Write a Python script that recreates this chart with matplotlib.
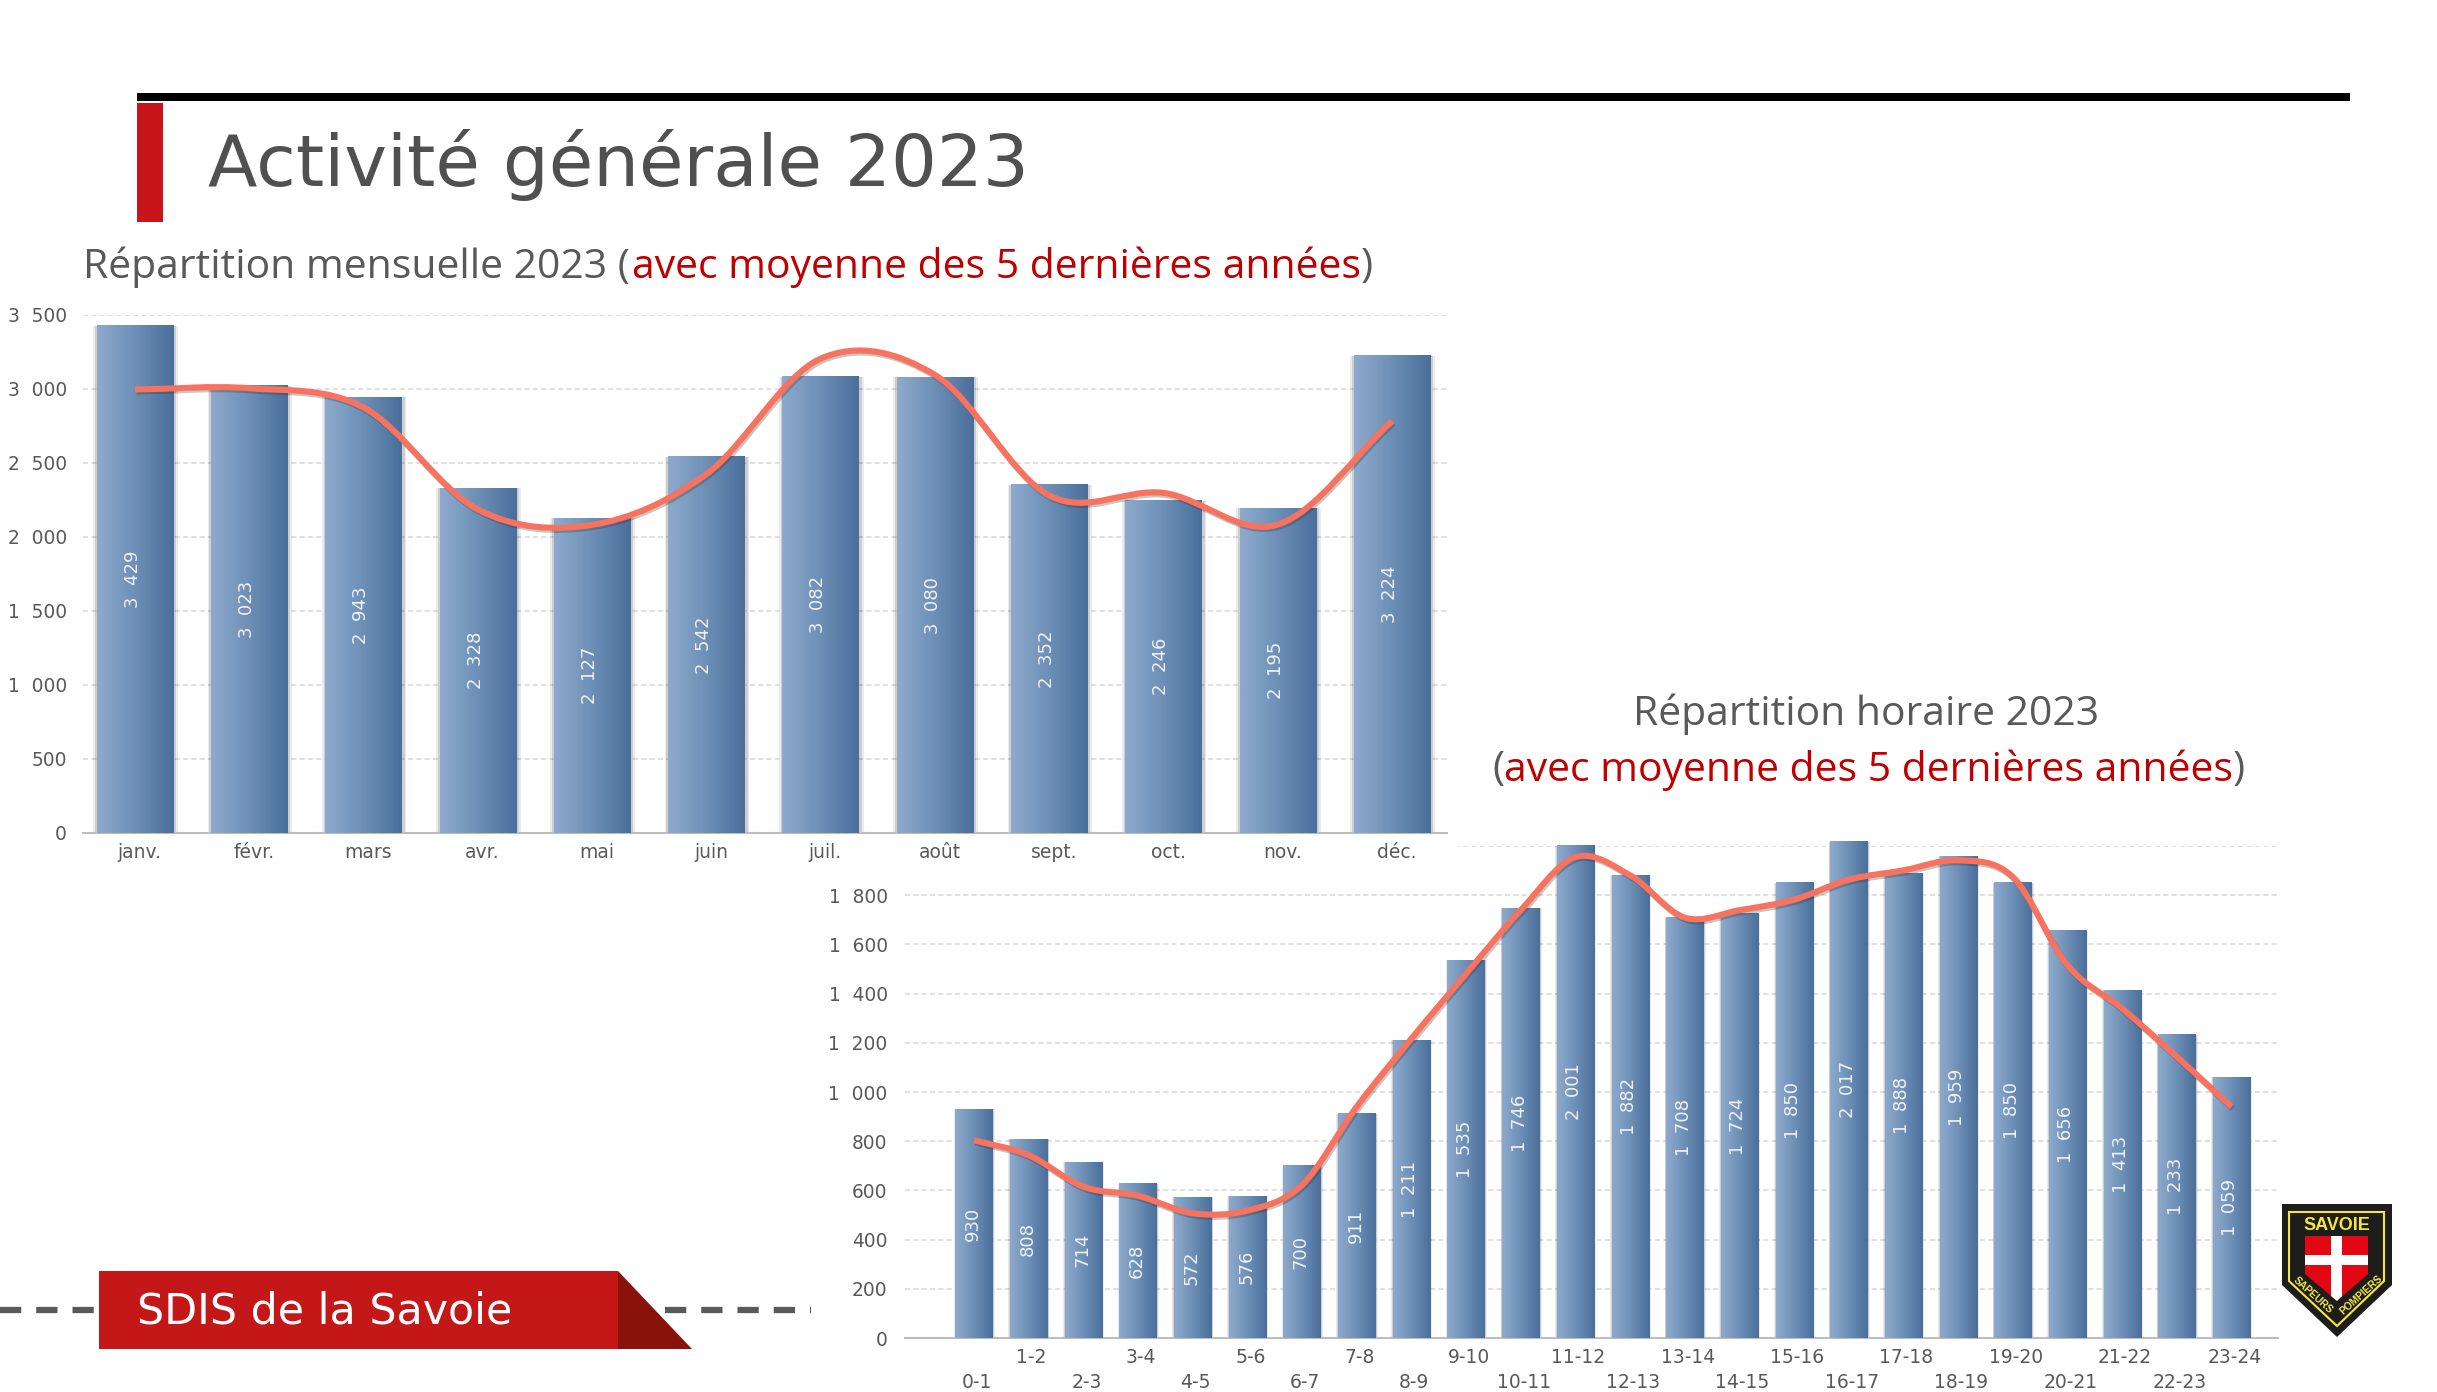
import numpy as np
import matplotlib
matplotlib.use("Agg")
import matplotlib.pyplot as plt
import matplotlib.patheffects as pe
from matplotlib.path import Path
from matplotlib.patches import PathPatch, Polygon, Rectangle
from matplotlib.colors import LinearSegmentedColormap
from matplotlib.transforms import ScaledTranslation

W, H = 2437, 1392

months = ["janv.", "févr.", "mars", "avr.", "mai", "juin", "juil.", "août", "sept.", "oct.", "nov.", "déc."]
month_values = [3429, 3023, 2943, 2328, 2127, 2542, 3082, 3080, 2352, 2246, 2195, 3224]
month_mean = [2997, 3005, 2875, 2186, 2082, 2425, 3205, 3095, 2280, 2298, 2084, 2783]
month_ticks = [0, 500, 1000, 1500, 2000, 2500, 3000, 3500]

hours = ["0-1", "1-2", "2-3", "3-4", "4-5", "5-6", "6-7", "7-8", "8-9", "9-10", "10-11", "11-12",
         "12-13", "13-14", "14-15", "15-16", "16-17", "17-18", "18-19", "19-20", "20-21", "21-22", "22-23", "23-24"]
hour_values = [930, 808, 714, 628, 572, 576, 700, 911, 1211, 1535, 1746, 2001,
               1882, 1708, 1724, 1850, 2017, 1888, 1959, 1850, 1656, 1413, 1233, 1059]
hour_mean = [804, 743, 615, 578, 507, 518, 622, 940, 1217, 1481, 1739, 1955,
             1881, 1709, 1739, 1782, 1863, 1901, 1942, 1874, 1515, 1339, 1143, 940]
hour_ticks = [0, 200, 400, 600, 800, 1000, 1200, 1400, 1600, 1800, 2000]

CHART_FONT = "DejaVu Sans"
SUB_FONT = "Open Sans"
GREY = "#595959"
RED = "#C00000"
bar_cmap = LinearSegmentedColormap.from_list("bar", ["#8DAACC", "#6D8FB6", "#4A6F9B"])
grad = np.linspace(0, 1, 64).reshape(1, -1)


def fmt(v):
    return f"{v:,}".replace(",", "  ")


def smooth_line(ax, ys):
    # catmull-rom through the values, like the smoothed line in the slide
    n = len(ys)
    verts = [(0, ys[0])]
    codes = [Path.MOVETO]
    for i in range(n - 1):
        m0 = (ys[i + 1] - ys[max(i - 1, 0)]) / (1 if i == 0 else 2)
        m1 = (ys[min(i + 2, n - 1)] - ys[i]) / (1 if i == n - 2 else 2)
        verts += [(i + 1 / 3, ys[i] + m0 / 3), (i + 2 / 3, ys[i + 1] - m1 / 3), (i + 1, ys[i + 1])]
        codes += [Path.CURVE4] * 3
    line = PathPatch(Path(verts, codes), fc="none", ec="#F7735F", lw=4.4, capstyle="butt", zorder=6, clip_on=False)
    line.set_path_effects([pe.SimpleLineShadow(offset=(1, -1.5), shadow_color="#222222", alpha=0.25), pe.Normal()])
    ax.add_patch(line)


def make_chart(box, xlim, ymax, cats, vals, mean, yticks, width, xlabels, ylabels, ypad, order, xshift):
    l, t, r, b = box
    ax = fig.add_axes([l / W, 1 - b / H, (r - l) / W, (b - t) / H], zorder=order)
    ax.patch.set_alpha(0)
    x = np.arange(len(cats))
    for xi, v in zip(x, vals):
        ax.add_patch(Rectangle((xi - width / 2 - 0.03, 0), width + 0.07, v, fc="#000000", alpha=0.08, ec="none", zorder=2, clip_on=False))
        ax.add_patch(Rectangle((xi - width / 2 - 0.015, 0), width + 0.04, v, fc="#000000", alpha=0.12, ec="none", zorder=2, clip_on=False))
        ax.imshow(grad, extent=(xi - width / 2, xi + width / 2, 0, v), aspect="auto", cmap=bar_cmap, zorder=3, clip_on=False)
        ax.text(xi - 0.02, v / 2, fmt(v), rotation=90, ha="center", va="center", color="#EEF2F7", fontsize=13, family=CHART_FONT, zorder=4)
    smooth_line(ax, mean)
    ax.set_xlim(*xlim)
    ax.set_ylim(0, ymax)
    ax.set_yticks(yticks)
    ax.set_yticklabels(ylabels, fontsize=13.4, family=CHART_FONT, color=GREY)
    ax.set_xticks(x)
    ax.set_xticklabels(xlabels, fontsize=13.5, family=CHART_FONT, color=GREY, linespacing=1.4)
    ax.tick_params(axis="y", length=0, pad=ypad)
    ax.tick_params(axis="x", length=0, pad=7)
    shift = ScaledTranslation(xshift / 100, 0, fig.dpi_scale_trans)
    for lab in ax.get_xticklabels():
        lab.set_transform(lab.get_transform() + shift)
    ax.yaxis.grid(True, color="#DADADA", ls=(0, (3, 2)), lw=1.2, zorder=1)
    ax.set_axisbelow(True)
    for s in ["top", "right", "left"]:
        ax.spines[s].set_visible(False)
    ax.spines["bottom"].set_color("#BDBDBD")
    ax.spines["bottom"].set_linewidth(1.5)
    return ax


fig = plt.figure(figsize=(W / 100, H / 100), dpi=100, facecolor="white")
bg = fig.add_axes([0, 0, 1, 1], zorder=-1)
bg.set_xlim(0, W)
bg.set_ylim(H, 0)
bg.axis("off")

# slide furniture
bg.add_patch(Rectangle((137, 93), 2213, 8, fc="black", ec="none"))
bg.add_patch(Rectangle((137, 103), 26, 119, fc="#C8141B", ec="none"))
bg.text(208, 165, "Activité générale 2023", fontsize=52, family="DejaVu Sans", color="#505050", va="center", ha="left")

r = fig.canvas.get_renderer()
SUB = 29.4
t1 = bg.text(83, 267, "Répartition mensuelle 2023 (", fontsize=SUB, family=SUB_FONT, color=GREY, va="center")
bb = t1.get_window_extent(r)
t2 = bg.text(bb.x1 + 2, 267, "avec moyenne des 5 dernières années", fontsize=SUB, family=SUB_FONT, color=RED, va="center")
bb = t2.get_window_extent(r)
bg.text(bb.x1, 267, ")", fontsize=SUB, family=SUB_FONT, color=GREY, va="center")

bg.text(1866, 714, "Répartition horaire 2023", fontsize=SUB, family=SUB_FONT, color=GREY, va="center", ha="center")
t1 = bg.text(1492, 770, "(", fontsize=SUB, family=SUB_FONT, color=GREY, va="center")
bb = t1.get_window_extent(r)
t2 = bg.text(bb.x1, 770, "avec moyenne des 5 dernières années", fontsize=SUB, family=SUB_FONT, color=RED, va="center")
bb = t2.get_window_extent(r)
bg.text(bb.x1, 770, ")", fontsize=SUB, family=SUB_FONT, color=GREY, va="center")

# banner
bg.plot([0, 99], [1310, 1310], color=GREY, lw=4.5, ls=(0, (3.4, 2.4)))
bg.plot([665, 811], [1310, 1310], color=GREY, lw=4.5, ls=(0, (3.4, 2.4)))
bg.add_patch(Rectangle((99, 1271), 519, 78, fc="#C41718", ec="none"))
bg.add_patch(Polygon([(618, 1271), (618, 1349), (692, 1349)], fc="#89130B", ec="none"))
bg.text(137, 1312, "SDIS de la Savoie", fontsize=30.8, family="DejaVu Sans", color="white", va="center", ha="left")

# logo
YEL = "#F5E642"
bg.add_patch(Polygon([(2282, 1204), (2392, 1204), (2392, 1285), (2337, 1337), (2282, 1285)], fc="#1D1D1B", ec="none"))
bg.add_patch(Polygon([(2289, 1212), (2384, 1212), (2384, 1281), (2337, 1326), (2289, 1281)], fc="none", ec=YEL, lw=1.5))
bg.add_patch(Polygon([(2305, 1236), (2368, 1236), (2368, 1274), (2337, 1301), (2305, 1274)], fc="#E30613", ec="none"))
bg.add_patch(Polygon([(2331, 1236), (2342, 1236), (2342, 1296), (2337, 1301), (2331, 1296)], fc="white", ec="none"))
bg.add_patch(Rectangle((2305, 1255), 63, 10, fc="white", ec="none"))
bg.text(2337, 1225, "SAVOIE", fontsize=13, fontweight="bold", family="Liberation Sans", color=YEL, ha="center", va="center")
bg.text(2313, 1295, "SAPEURS", fontsize=7.4, fontweight="bold", family="Liberation Sans", color=YEL, ha="center", va="center", rotation=-42)
bg.text(2361, 1295, "POMPIERS", fontsize=7.4, fontweight="bold", family="Liberation Sans", color=YEL, ha="center", va="center", rotation=42)

hour_labels = [h if i % 2 else "\n" + h for i, h in enumerate(hours)]
hour_ylabels = [fmt(v) for v in hour_ticks[:-1]] + [""]
make_chart((905, 846, 2278, 1338), (-1.262, 23.85), 2000, hours, hour_values, hour_mean,
           hour_ticks, 0.68, hour_labels, hour_ylabels, 12.5, 0, 3)

# the monthly chart sits on top of the hourly one and hides the left of its 2 000 line
fig.add_artist(Rectangle((83 / W, 1 - 872 / H), (1458 - 83) / W, 34 / H, transform=fig.transFigure, fc="white", ec="none", zorder=0.5))
make_chart((83, 315, 1447, 833), (-0.455, 11.48), 3500, months, month_values, month_mean,
           month_ticks, 0.67, months, [fmt(v) for v in month_ticks], 11.5, 1, 4.5)

fig.savefig("out.png", dpi=100, facecolor="white")
